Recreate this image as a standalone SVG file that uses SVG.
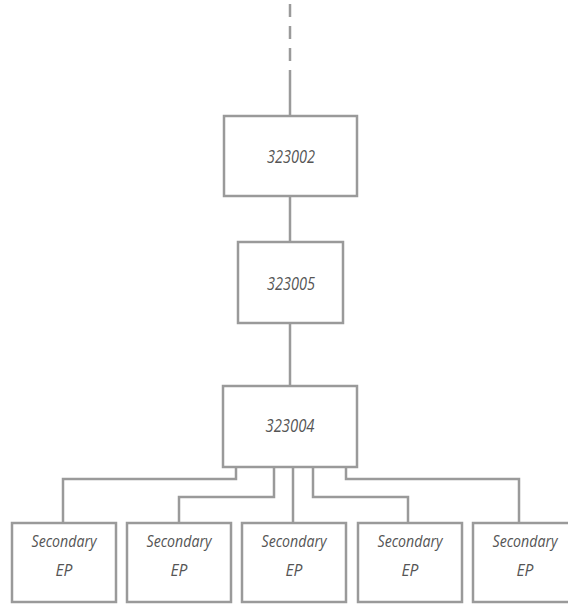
<svg xmlns="http://www.w3.org/2000/svg" width="568" height="604" viewBox="0 0 568 604">
<style>
.box{fill:#fff;stroke:#9a9a9a;stroke-width:2.5}
.ln{fill:none;stroke:#9a9a9a;stroke-width:2.5}
.num{font-family:"Open Sans","Liberation Sans",sans-serif;font-style:italic;font-size:19px;fill:#555;text-anchor:middle}
.lbl{font-family:"Open Sans","Liberation Sans",sans-serif;font-style:italic;font-size:17px;fill:#555;text-anchor:middle}
</style>
<rect width="568" height="604" fill="#fff"/>
<g id="connectors">
<path class="ln" d="M290 4V61" stroke-dasharray="13 9"/>
<path class="ln" d="M290 70V116"/>
<path class="ln" d="M290 196V242"/>
<path class="ln" d="M290 323V386"/>
<path class="ln" d="M236 467V479H63V523"/>
<path class="ln" d="M274 467V497H179V523"/>
<path class="ln" d="M293 467V523"/>
<path class="ln" d="M313 467V497H408V523"/>
<path class="ln" d="M346 467V479H519V523"/>
</g>
<g id="n323002"><rect class="box" x="224" y="116" width="133" height="80"/><text class="num" x="291" y="163" textLength="48" lengthAdjust="spacingAndGlyphs">323002</text></g>
<g id="n323005"><rect class="box" x="238" y="242" width="105" height="81"/><text class="num" x="291" y="290" textLength="48" lengthAdjust="spacingAndGlyphs">323005</text></g>
<g id="n323004"><rect class="box" x="223" y="386" width="134" height="81"/><text class="num" x="290" y="432" textLength="49" lengthAdjust="spacingAndGlyphs">323004</text></g>
<g id="ep1"><rect class="box" x="12" y="523" width="104" height="79"/><text class="lbl" x="64" y="547" textLength="65" lengthAdjust="spacingAndGlyphs">Secondary</text><text class="lbl" x="64" y="576" textLength="17" lengthAdjust="spacingAndGlyphs">EP</text></g>
<g id="ep2"><rect class="box" x="127" y="523" width="104" height="79"/><text class="lbl" x="179" y="547" textLength="65" lengthAdjust="spacingAndGlyphs">Secondary</text><text class="lbl" x="179" y="576" textLength="17" lengthAdjust="spacingAndGlyphs">EP</text></g>
<g id="ep3"><rect class="box" x="242" y="523" width="104" height="79"/><text class="lbl" x="294" y="547" textLength="65" lengthAdjust="spacingAndGlyphs">Secondary</text><text class="lbl" x="294" y="576" textLength="17" lengthAdjust="spacingAndGlyphs">EP</text></g>
<g id="ep4"><rect class="box" x="358" y="523" width="104" height="79"/><text class="lbl" x="410" y="547" textLength="65" lengthAdjust="spacingAndGlyphs">Secondary</text><text class="lbl" x="410" y="576" textLength="17" lengthAdjust="spacingAndGlyphs">EP</text></g>
<g id="ep5"><rect class="box" x="473" y="523" width="104" height="79"/><text class="lbl" x="525" y="547" textLength="65" lengthAdjust="spacingAndGlyphs">Secondary</text><text class="lbl" x="525" y="576" textLength="17" lengthAdjust="spacingAndGlyphs">EP</text></g>
</svg>
